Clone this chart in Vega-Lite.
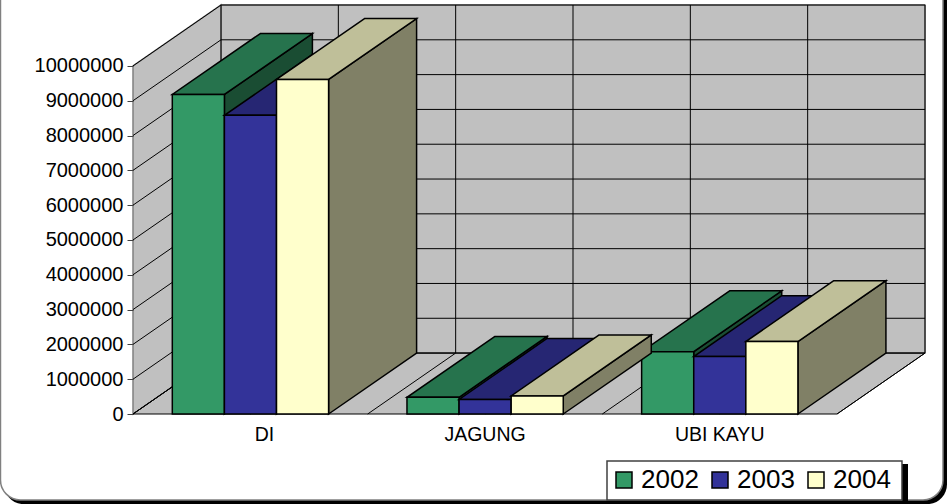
{
"$schema":"https://vega.github.io/schema/vega-lite/v6.json",
"width":792,"height":409,
"autosize":{"type":"none"},
"padding":{"left":133,"top":5,"right":22,"bottom":90},
"background":"white",
"config":{"view":{"stroke":null},"font":"Liberation Sans"},
"datasets":{
"one":[{"name":"frame"}],
"grid":[{"v":0},{"v":1000000},{"v":2000000},{"v":3000000},{"v":4000000},{"v":5000000},{"v":6000000},{"v":7000000},{"v":8000000},{"v":9000000},{"v":10000000}],
"vert":[{"k":0},{"k":0.5},{"k":1},{"k":1.5},{"k":2},{"k":2.5},{"k":3}],
"cats":[{"cat":"DI","pos":0.56},{"cat":"JAGUNG","pos":1.5},{"cat":"UBI KAYU","pos":2.5}]
},
"data":{"values":[
{"cat":"DI","i":0,"year":"2002","s":0,"value":9180000},
{"cat":"DI","i":0,"year":"2003","s":1,"value":8580000},
{"cat":"DI","i":0,"year":"2004","s":2,"value":9610000},
{"cat":"JAGUNG","i":1,"year":"2002","s":0,"value":480000},
{"cat":"JAGUNG","i":1,"year":"2003","s":1,"value":420000},
{"cat":"JAGUNG","i":1,"year":"2004","s":2,"value":520000},
{"cat":"UBI KAYU","i":2,"year":"2002","s":0,"value":1790000},
{"cat":"UBI KAYU","i":2,"year":"2003","s":1,"value":1650000},
{"cat":"UBI KAYU","i":2,"year":"2004","s":2,"value":2080000}
]},
"transform":[
{"calculate":"datum.i+0.1675+datum.s*0.222","as":"x0"},
{"calculate":"datum.x0+0.222","as":"x1"},
{"calculate":"[0,1]","as":"t"},
{"flatten":["t"]},
{"calculate":"datum.x1+datum.t*0.375","as":"sx"},
{"calculate":"datum.t*1750000","as":"sb"},
{"calculate":"datum.value+datum.t*1750000","as":"st"},
{"calculate":"datum.x0+datum.t*0.375","as":"tx0"},
{"calculate":"datum.tx0+0.222","as":"tx1"}
],
"layer":[
{"data":{"name":"one"},"transform":[{"calculate":"-0.55","as":"a"},{"calculate":"3.4687","as":"b"},{"calculate":"-2590000","as":"c"},{"calculate":"12500000","as":"d"}],
 "mark":{"type":"rect","fill":"black","cornerRadius":20},
 "encoding":{"x":{"field":"a","type":"quantitative","scale":{"domain":[0,3.375],"nice":false,"zero":false},"axis":null},"x2":{"field":"b"},
 "y":{"field":"c","type":"quantitative","scale":{"domain":[0,11750000],"nice":false,"zero":false},"axis":{"title":null,"values":[0,1000000,2000000,3000000,4000000,5000000,6000000,7000000,8000000,9000000,10000000],"format":"d","zindex":1,"grid":false,"domain":false,"ticks":true,"tickColor":"#404040","tickSize":6,"tickWidth":1,"labelFont":"Liberation Sans","labelFontSize":20,"labelColor":"black","labelPadding":4,"labelOverlap":false,"labelBound":false,"labelFlush":false}},"y2":{"field":"d"}}},
{"data":{"name":"one"},"transform":[{"calculate":"-0.5647","as":"a"},{"calculate":"3.4517","as":"b"},{"calculate":"-2470000","as":"c"},{"calculate":"12500000","as":"d"}],
 "mark":{"type":"rect","fill":"white","stroke":"#808080","strokeWidth":1.5,"cornerRadius":20},
 "encoding":{"x":{"field":"a","type":"quantitative"},"x2":{"field":"b"},"y":{"field":"c","type":"quantitative"},"y2":{"field":"d"}}},
{"data":{"name":"one"},"transform":[{"calculate":"0.375","as":"a"},{"calculate":"3.375","as":"b"},{"calculate":"1750000","as":"c"},{"calculate":"11750000","as":"d"}],
 "mark":{"type":"rect","fill":"#C0C0C0","stroke":"#808080","strokeWidth":1.5},
 "encoding":{"x":{"field":"a","type":"quantitative"},"x2":{"field":"b"},"y":{"field":"c","type":"quantitative"},"y2":{"field":"d"}}},
{"data":{"values":[{"a":0},{"a":1}]},
 "transform":[{"calculate":"datum.a*0.375","as":"wx"},{"calculate":"datum.a*1750000","as":"wb"},{"calculate":"10000000+datum.a*1750000","as":"wt"}],
 "mark":{"type":"area","orient":"vertical","fill":"#C0C0C0","stroke":"#808080","strokeWidth":1.5},
 "encoding":{"x":{"field":"wx","type":"quantitative"},"y":{"field":"wb","type":"quantitative","stack":null},"y2":{"field":"wt"}}},
{"data":{"values":[{"a":0},{"a":1}]},
 "transform":[{"calculate":"datum.a*0.375","as":"fl"},{"calculate":"3+datum.a*0.375","as":"fr"},{"calculate":"datum.a*1750000","as":"fy"}],
 "mark":{"type":"area","orient":"horizontal","fill":"#C0C0C0","stroke":"black","strokeWidth":1},
 "encoding":{"y":{"field":"fy","type":"quantitative"},"x":{"field":"fl","type":"quantitative","stack":null},"x2":{"field":"fr"}}},
{"data":{"name":"grid"},"transform":[{"calculate":"datum.v+1750000","as":"vb"},{"calculate":"0.375","as":"a"},{"calculate":"3.375","as":"b"}],"mark":{"type":"rule","stroke":"black","strokeWidth":1},
 "encoding":{"x":{"field":"a","type":"quantitative"},"x2":{"field":"b"},"y":{"field":"vb","type":"quantitative"}}},
{"data":{"name":"grid"},"transform":[{"calculate":"datum.v+1750000","as":"vb"},{"calculate":"0","as":"a"},{"calculate":"0.375","as":"b"}],"mark":{"type":"rule","stroke":"black","strokeWidth":1},
 "encoding":{"x":{"field":"a","type":"quantitative"},"x2":{"field":"b"},"y":{"field":"v","type":"quantitative"},"y2":{"field":"vb"}}},
{"data":{"name":"vert"},"transform":[{"calculate":"datum.k+0.375","as":"kb"},{"calculate":"1750000","as":"c"},{"calculate":"11750000","as":"d"}],"mark":{"type":"rule","stroke":"black","strokeWidth":1},
 "encoding":{"x":{"field":"kb","type":"quantitative"},"y":{"field":"c","type":"quantitative"},"y2":{"field":"d"}}},
{"data":{"name":"vert"},"transform":[{"calculate":"datum.k+0.375","as":"kb"},{"calculate":"0","as":"c"},{"calculate":"1750000","as":"d"}],"mark":{"type":"rule","stroke":"black","strokeWidth":1},
 "encoding":{"x":{"field":"k","type":"quantitative"},"x2":{"field":"kb"},"y":{"field":"c","type":"quantitative"},"y2":{"field":"d"}}},

{"transform":[{"filter":"datum.year=='2002'"}],"mark":{"type":"area","orient":"vertical","fill":"#1A4D33","stroke":"black","strokeWidth":1.5},
 "encoding":{"detail":{"field":"cat","type":"nominal"},"x":{"field":"sx","type":"quantitative"},"y":{"field":"sb","type":"quantitative","stack":null},"y2":{"field":"st"}}},
{"transform":[{"filter":"datum.year=='2002'"}],"mark":{"type":"area","orient":"horizontal","fill":"#26734D","stroke":"black","strokeWidth":1.5},
 "encoding":{"detail":{"field":"cat","type":"nominal"},"y":{"field":"st","type":"quantitative"},"x":{"field":"tx0","type":"quantitative","stack":null},"x2":{"field":"tx1"}}},
{"transform":[{"filter":"datum.year=='2002' && datum.t==0"}],"mark":{"type":"rect","stroke":"black","strokeWidth":1.5},
 "encoding":{"x":{"field":"x0","type":"quantitative"},"x2":{"field":"x1"},"y":{"field":"sb","type":"quantitative"},"y2":{"field":"value"},
 "color":{"field":"year","type":"nominal","scale":{"domain":["2002","2003","2004"],"range":["#339966","#333399","#FFFFCC"]},
 "legend":{"title":null,"orient":"none","legendX":474,"legendY":458,"direction":"horizontal","columns":3,"padding":4,"labelFontSize":26,"labelFont":"Liberation Sans","labelColor":"black","symbolType":"square","symbolSize":256,"symbolStrokeColor":"black","symbolStrokeWidth":1.5,"symbolOpacity":1,"labelOffset":4,"columnPadding":8,"rowPadding":0}}}},

{"transform":[{"filter":"datum.year=='2003'"}],"mark":{"type":"area","orient":"vertical","fill":"#1A1A4D","stroke":"black","strokeWidth":1.5},
 "encoding":{"detail":{"field":"cat","type":"nominal"},"x":{"field":"sx","type":"quantitative"},"y":{"field":"sb","type":"quantitative","stack":null},"y2":{"field":"st"}}},
{"transform":[{"filter":"datum.year=='2003'"}],"mark":{"type":"area","orient":"horizontal","fill":"#262673","stroke":"black","strokeWidth":1.5},
 "encoding":{"detail":{"field":"cat","type":"nominal"},"y":{"field":"st","type":"quantitative"},"x":{"field":"tx0","type":"quantitative","stack":null},"x2":{"field":"tx1"}}},
{"transform":[{"filter":"datum.year=='2003' && datum.t==0"}],"mark":{"type":"rect","stroke":"black","strokeWidth":1.5},
 "encoding":{"x":{"field":"x0","type":"quantitative"},"x2":{"field":"x1"},"y":{"field":"sb","type":"quantitative"},"y2":{"field":"value"},"color":{"field":"year","type":"nominal"}}},

{"transform":[{"filter":"datum.year=='2004'"}],"mark":{"type":"area","orient":"vertical","fill":"#808066","stroke":"black","strokeWidth":1.5},
 "encoding":{"detail":{"field":"cat","type":"nominal"},"x":{"field":"sx","type":"quantitative"},"y":{"field":"sb","type":"quantitative","stack":null},"y2":{"field":"st"}}},
{"transform":[{"filter":"datum.year=='2004'"}],"mark":{"type":"area","orient":"horizontal","fill":"#BFBF99","stroke":"black","strokeWidth":1.5},
 "encoding":{"detail":{"field":"cat","type":"nominal"},"y":{"field":"st","type":"quantitative"},"x":{"field":"tx0","type":"quantitative","stack":null},"x2":{"field":"tx1"}}},
{"transform":[{"filter":"datum.year=='2004' && datum.t==0"}],"mark":{"type":"rect","stroke":"black","strokeWidth":1.5},
 "encoding":{"x":{"field":"x0","type":"quantitative"},"x2":{"field":"x1"},"y":{"field":"sb","type":"quantitative"},"y2":{"field":"value"},"color":{"field":"year","type":"nominal"}}},

{"data":{"name":"cats"},"transform":[{"calculate":"-590000","as":"ly"}],"mark":{"type":"text","font":"Liberation Sans","fontSize":19.5,"color":"black","align":"center","baseline":"middle"},
 "encoding":{"x":{"field":"pos","type":"quantitative"},"y":{"field":"ly","type":"quantitative"},"text":{"field":"cat","type":"nominal"}}},
{"data":{"name":"one"},"transform":[{"calculate":"3.2769","as":"a"},{"calculate":"3.3025","as":"b"},{"calculate":"-2500000","as":"c"},{"calculate":"-1436000","as":"d"}],"mark":{"type":"rect","fill":"black"},
 "encoding":{"x":{"field":"a","type":"quantitative"},"x2":{"field":"b"},"y":{"field":"c","type":"quantitative"},"y2":{"field":"d"}}},
{"data":{"name":"one"},"transform":[{"calculate":"2.0199","as":"a"},{"calculate":"3.2769","as":"b"},{"calculate":"-2470000","as":"c"},{"calculate":"-1350000","as":"d"}],"mark":{"type":"rect","fill":"white","stroke":"#404040","strokeWidth":1.5},
 "encoding":{"x":{"field":"a","type":"quantitative"},"x2":{"field":"b"},"y":{"field":"c","type":"quantitative"},"y2":{"field":"d"}}}
]
}
